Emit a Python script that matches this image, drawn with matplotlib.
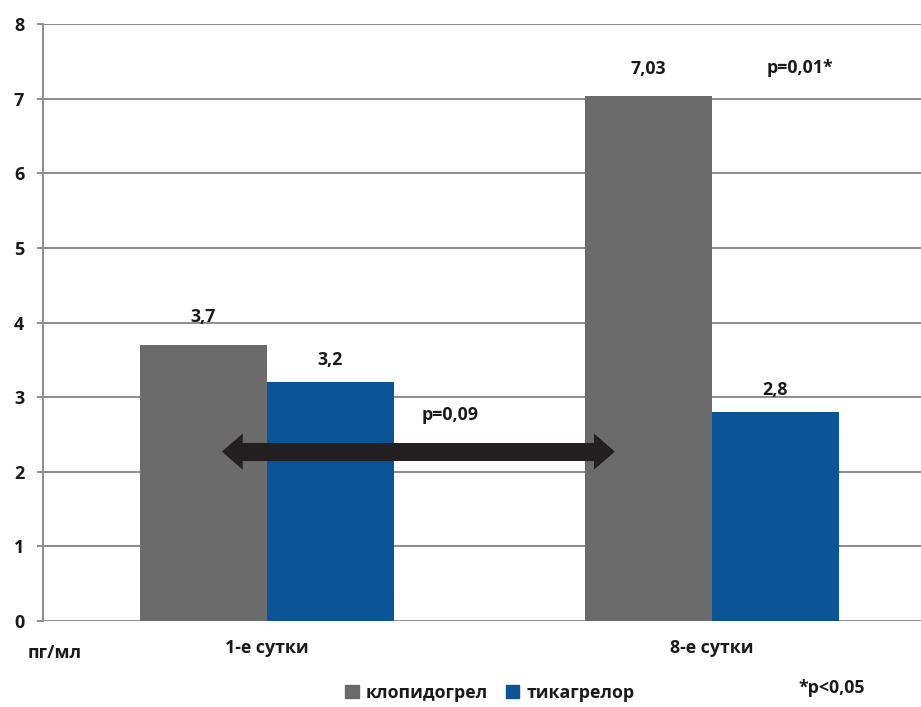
import matplotlib
matplotlib.use("Agg")
import matplotlib.pyplot as plt
import matplotlib.patches as mpatches
import numpy as np

plt.rcParams['font.family'] = ['Open Sans', 'DejaVu Sans']

# data
categories = ["1-е сутки", "8-е сутки"]
clopidogrel = [3.7, 7.03]
ticagrelor = [3.2, 2.8]
clop_labels = ["3,7", "7,03"]
tica_labels = ["3,2", "2,8"]
series_names = ["клопидогрел", "тикагрелор"]
y_ticks = [0, 1, 2, 3, 4, 5, 6, 7, 8]

GRAY = "#6b6b6b"
BLUE = "#0b5597"
GRID = "#8c8c8c"
TXT = "#1a1a1a"
ARROW = "#231f20"
WEIGHT = "bold"
FS = 12.8

fig = plt.figure(figsize=(9.21, 7.07), dpi=100)
ax = fig.add_axes([43 / 921, 86 / 707, 1 - 43 / 921, 597 / 707])

x = np.arange(len(categories))
w = 0.285
ax.bar(x - w / 2, clopidogrel, width=w, color=GRAY, zorder=3)
ax.bar(x + w / 2, ticagrelor, width=w, color=BLUE, zorder=3)

# value labels
for xi, v, lab in zip(x - w / 2, clopidogrel, clop_labels):
    ax.annotate(lab, (xi, v), xytext=(0, 20), textcoords="offset points",
                ha="center", va="center", fontsize=FS, fontweight=WEIGHT, color=TXT)
for xi, v, lab in zip(x + w / 2, ticagrelor, tica_labels):
    ax.annotate(lab, (xi, v), xytext=(0, 16), textcoords="offset points",
                ha="center", va="center", fontsize=FS, fontweight=WEIGHT, color=TXT)

# double-headed arrow: thick shaft + two heads
arrow_y = 2.27
left_tip, right_tip = -0.101, 0.782
ax.plot([left_tip + 0.04, right_tip - 0.04], [arrow_y, arrow_y], color=ARROW,
        lw=13, solid_capstyle="butt", zorder=5)
style = "simple,head_length=0.75,head_width=1.3,tail_width=0.3"
for tip, start in ((left_tip, left_tip + 0.12), (right_tip, right_tip - 0.12)):
    ax.annotate("", xy=(tip, arrow_y), xytext=(start, arrow_y),
                arrowprops=dict(arrowstyle=style, mutation_scale=20, color=ARROW,
                                lw=0, shrinkA=0, shrinkB=0), zorder=5)

ax.text(0.411, 2.76, "p=0,09", ha="center", va="center", fontsize=FS,
        fontweight=WEIGHT, color=TXT, zorder=6)
ax.text(1.198, 7.41, "p=0,01*", ha="center", va="center", fontsize=FS,
        fontweight=WEIGHT, color=TXT)

ax.set_xlim(-0.503, 1.470)
ax.set_ylim(0, 8)
ax.set_yticks(y_ticks)
ax.set_yticklabels([str(t) for t in y_ticks], fontsize=13, fontweight="bold", color=TXT)
ax.set_xticks(x)
ax.set_xticklabels(categories, fontsize=FS, fontweight=WEIGHT, color=TXT)
ax.tick_params(axis="x", length=0, pad=13)
ax.tick_params(axis="y", length=4.5, width=1.4, color=GRID, pad=9)

ax.grid(axis="y", color=GRID, lw=1.4, zorder=0)
ax.set_axisbelow(True)
for s in ["top", "right", "bottom"]:
    ax.spines[s].set_visible(False)
ax.spines["left"].set_color(GRID)
ax.spines["left"].set_linewidth(1.4)

fig.text(55 / 921, 1 - 653 / 707, "пг/мл", ha="center", va="center", fontsize=FS,
         fontweight=WEIGHT, color=TXT)
fig.text(832 / 921, 1 - 688 / 707, "*p<0,05", ha="center", va="center", fontsize=FS,
         fontweight=WEIGHT, color=TXT)

handles = [mpatches.Patch(color=GRAY, label=series_names[0]),
           mpatches.Patch(color=BLUE, label=series_names[1])]
leg = fig.legend(handles=handles, loc="center", bbox_to_anchor=(490 / 921, 1 - 693 / 707),
                 ncol=2, frameon=False, handlelength=0.75, handleheight=0.75,
                 handletextpad=0.4, columnspacing=1.0,
                 prop={"size": 12.8, "weight": "bold"})
for t in leg.get_texts():
    t.set_color(TXT)

fig.savefig("out.png", dpi=100)
